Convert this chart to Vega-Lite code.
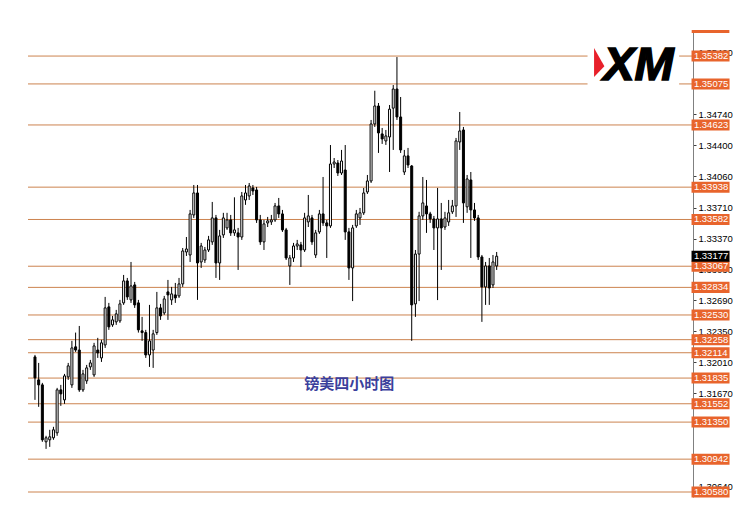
{
  "$schema": "https://vega.github.io/schema/vega-lite/v6.json",
  "width": 665,
  "height": 467,
  "autosize": {"type": "none"},
  "padding": {"left": 28, "top": 30, "right": 60, "bottom": 18},
  "background": "white",
  "config": {
    "view": {"stroke": null},
    "axisX": {"disable": true},
    "axisY": {
      "title": null,
      "format": ".5f",
      "grid": false,
      "domainColor": "#808080",
      "domainWidth": 1,
      "tickColor": "#404040",
      "tickSize": 3,
      "labelPadding": 2,
      "labelFont": "Liberation Sans",
      "labelFontSize": 9.5,
      "labelColor": "#000000",
      "labelBound": false,
      "labelOverlap": false,
      "labelFlush": false
    }
  },
  "datasets": {
    "candles": [
      {"i":0,"o":1.32068,"h":1.3209,"l":1.31595,"c":1.31837},
      {"i":1,"o":1.31815,"h":1.32002,"l":1.31518,"c":1.3176},
      {"i":2,"o":1.3176,"h":1.31782,"l":1.31133,"c":1.31155},
      {"i":3,"o":1.31133,"h":1.31199,"l":1.31055,"c":1.31177},
      {"i":4,"o":1.31155,"h":1.31265,"l":1.31077,"c":1.31188},
      {"i":5,"o":1.31177,"h":1.31298,"l":1.31155,"c":1.31265},
      {"i":6,"o":1.31232,"h":1.31727,"l":1.31199,"c":1.31705},
      {"i":7,"o":1.31705,"h":1.3176,"l":1.31529,"c":1.31661},
      {"i":8,"o":1.31595,"h":1.31881,"l":1.31551,"c":1.31859},
      {"i":9,"o":1.31848,"h":1.32002,"l":1.31815,"c":1.31969},
      {"i":10,"o":1.3176,"h":1.32245,"l":1.31727,"c":1.32167},
      {"i":11,"o":1.32179,"h":1.32336,"l":1.32123,"c":1.32144},
      {"i":12,"o":1.32144,"h":1.32409,"l":1.31683,"c":1.31705},
      {"i":13,"o":1.31705,"h":1.31925,"l":1.31683,"c":1.31881},
      {"i":14,"o":1.31804,"h":1.3198,"l":1.31771,"c":1.31947},
      {"i":15,"o":1.31958,"h":1.32035,"l":1.31925,"c":1.32002},
      {"i":16,"o":1.3187,"h":1.32223,"l":1.31848,"c":1.32189},
      {"i":17,"o":1.32144,"h":1.32278,"l":1.32057,"c":1.32112},
      {"i":18,"o":1.32057,"h":1.32256,"l":1.32013,"c":1.32223},
      {"i":19,"o":1.322,"h":1.32729,"l":1.32167,"c":1.32608},
      {"i":20,"o":1.32619,"h":1.32663,"l":1.32366,"c":1.32399},
      {"i":21,"o":1.32421,"h":1.3252,"l":1.32399,"c":1.32476},
      {"i":22,"o":1.32454,"h":1.32586,"l":1.32421,"c":1.32542},
      {"i":23,"o":1.32465,"h":1.32696,"l":1.32443,"c":1.32652},
      {"i":24,"o":1.32663,"h":1.32971,"l":1.32641,"c":1.32905},
      {"i":25,"o":1.32905,"h":1.32938,"l":1.32696,"c":1.32729},
      {"i":26,"o":1.32696,"h":1.33114,"l":1.32663,"c":1.3285},
      {"i":27,"o":1.32861,"h":1.32894,"l":1.32608,"c":1.32641},
      {"i":28,"o":1.32663,"h":1.32696,"l":1.32336,"c":1.32366},
      {"i":29,"o":1.32355,"h":1.32509,"l":1.32245,"c":1.32336},
      {"i":30,"o":1.32336,"h":1.32366,"l":1.32057,"c":1.3209},
      {"i":31,"o":1.3209,"h":1.32641,"l":1.31958,"c":1.32245},
      {"i":32,"o":1.32144,"h":1.32366,"l":1.31947,"c":1.32322},
      {"i":33,"o":1.32336,"h":1.32784,"l":1.32311,"c":1.32608},
      {"i":34,"o":1.32608,"h":1.32652,"l":1.32476,"c":1.3252},
      {"i":35,"o":1.32553,"h":1.3274,"l":1.32531,"c":1.32707},
      {"i":36,"o":1.32784,"h":1.32916,"l":1.32476,"c":1.32751},
      {"i":37,"o":1.32696,"h":1.32839,"l":1.32641,"c":1.32762},
      {"i":38,"o":1.32751,"h":1.32883,"l":1.32663,"c":1.32718},
      {"i":39,"o":1.3274,"h":1.32938,"l":1.32718,"c":1.32872},
      {"i":40,"o":1.32872,"h":1.33268,"l":1.32839,"c":1.33235},
      {"i":41,"o":1.33224,"h":1.33389,"l":1.3318,"c":1.33257},
      {"i":42,"o":1.33191,"h":1.33687,"l":1.33114,"c":1.33643},
      {"i":43,"o":1.33632,"h":1.33962,"l":1.33599,"c":1.33874},
      {"i":44,"o":1.33874,"h":1.33962,"l":1.32696,"c":1.33103},
      {"i":45,"o":1.33114,"h":1.33324,"l":1.33048,"c":1.3329},
      {"i":46,"o":1.33136,"h":1.33279,"l":1.33103,"c":1.33246},
      {"i":47,"o":1.33246,"h":1.33401,"l":1.33224,"c":1.33357},
      {"i":48,"o":1.33335,"h":1.33775,"l":1.33302,"c":1.33599},
      {"i":49,"o":1.33599,"h":1.33632,"l":1.32938,"c":1.33103},
      {"i":50,"o":1.33103,"h":1.33467,"l":1.32916,"c":1.33401},
      {"i":51,"o":1.33412,"h":1.33655,"l":1.33379,"c":1.33599},
      {"i":52,"o":1.33489,"h":1.33655,"l":1.33467,"c":1.33577},
      {"i":53,"o":1.33577,"h":1.33632,"l":1.33401,"c":1.33434},
      {"i":54,"o":1.33434,"h":1.33826,"l":1.33401,"c":1.33467},
      {"i":55,"o":1.33434,"h":1.33489,"l":1.33026,"c":1.33389},
      {"i":56,"o":1.33389,"h":1.33885,"l":1.33357,"c":1.33841},
      {"i":57,"o":1.33797,"h":1.33962,"l":1.33743,"c":1.33874},
      {"i":58,"o":1.33841,"h":1.33984,"l":1.33797,"c":1.33951},
      {"i":59,"o":1.33929,"h":1.33962,"l":1.33852,"c":1.33896},
      {"i":60,"o":1.33907,"h":1.3394,"l":1.33544,"c":1.33577},
      {"i":61,"o":1.33577,"h":1.33632,"l":1.33302,"c":1.33335},
      {"i":62,"o":1.33335,"h":1.33577,"l":1.33246,"c":1.33533},
      {"i":63,"o":1.33544,"h":1.3361,"l":1.33499,"c":1.33566},
      {"i":64,"o":1.33555,"h":1.33632,"l":1.33522,"c":1.33577},
      {"i":65,"o":1.33577,"h":1.33764,"l":1.33555,"c":1.33731},
      {"i":66,"o":1.33731,"h":1.33819,"l":1.33599,"c":1.33643},
      {"i":67,"o":1.33643,"h":1.33687,"l":1.33445,"c":1.33467},
      {"i":68,"o":1.33467,"h":1.33489,"l":1.33136,"c":1.33158},
      {"i":69,"o":1.3307,"h":1.33191,"l":1.32861,"c":1.33158},
      {"i":70,"o":1.33158,"h":1.33324,"l":1.33114,"c":1.3329},
      {"i":71,"o":1.3329,"h":1.33357,"l":1.33246,"c":1.33312},
      {"i":72,"o":1.33302,"h":1.33335,"l":1.33059,"c":1.33246},
      {"i":73,"o":1.33246,"h":1.33655,"l":1.33224,"c":1.33599},
      {"i":74,"o":1.33555,"h":1.33852,"l":1.33499,"c":1.33621},
      {"i":75,"o":1.33599,"h":1.33632,"l":1.33302,"c":1.33335},
      {"i":76,"o":1.33191,"h":1.33467,"l":1.33158,"c":1.33434},
      {"i":77,"o":1.33445,"h":1.33687,"l":1.33423,"c":1.33643},
      {"i":78,"o":1.33643,"h":1.3405,"l":1.33511,"c":1.33544},
      {"i":79,"o":1.33544,"h":1.33577,"l":1.33158,"c":1.33511},
      {"i":80,"o":1.33511,"h":1.34402,"l":1.33489,"c":1.34193},
      {"i":81,"o":1.34193,"h":1.34259,"l":1.34149,"c":1.34215},
      {"i":82,"o":1.34204,"h":1.34237,"l":1.34061,"c":1.34094},
      {"i":83,"o":1.34094,"h":1.34348,"l":1.34072,"c":1.34226},
      {"i":84,"o":1.34127,"h":1.34402,"l":1.33357,"c":1.33445},
      {"i":85,"o":1.33445,"h":1.33489,"l":1.32916,"c":1.33048},
      {"i":86,"o":1.33048,"h":1.33522,"l":1.32683,"c":1.33489},
      {"i":87,"o":1.33511,"h":1.33687,"l":1.33489,"c":1.33643},
      {"i":88,"o":1.33599,"h":1.33709,"l":1.33522,"c":1.33655},
      {"i":89,"o":1.33655,"h":1.33929,"l":1.33632,"c":1.33874},
      {"i":90,"o":1.33885,"h":1.34072,"l":1.33863,"c":1.34006},
      {"i":91,"o":1.34006,"h":1.34678,"l":1.33984,"c":1.34634},
      {"i":92,"o":1.34634,"h":1.35,"l":1.34601,"c":1.34832},
      {"i":93,"o":1.34832,"h":1.34865,"l":1.34315,"c":1.34535},
      {"i":94,"o":1.34524,"h":1.3459,"l":1.34414,"c":1.34469},
      {"i":95,"o":1.34447,"h":1.34568,"l":1.34403,"c":1.34502},
      {"i":96,"o":1.34491,"h":1.34843,"l":1.34105,"c":1.34797},
      {"i":97,"o":1.34808,"h":1.35063,"l":1.34348,"c":1.35019},
      {"i":98,"o":1.35019,"h":1.35371,"l":1.34678,"c":1.34711},
      {"i":99,"o":1.34711,"h":1.34931,"l":1.34315,"c":1.34348},
      {"i":100,"o":1.34105,"h":1.34348,"l":1.34072,"c":1.34282},
      {"i":101,"o":1.34282,"h":1.3437,"l":1.34149,"c":1.34182},
      {"i":102,"o":1.34171,"h":1.34182,"l":1.32245,"c":1.32641},
      {"i":103,"o":1.32652,"h":1.33246,"l":1.32509,"c":1.33201},
      {"i":104,"o":1.33201,"h":1.33666,"l":1.32683,"c":1.33621},
      {"i":105,"o":1.33621,"h":1.3405,"l":1.33577,"c":1.33764},
      {"i":106,"o":1.33731,"h":1.34017,"l":1.33434,"c":1.33643},
      {"i":107,"o":1.33643,"h":1.33666,"l":1.33544,"c":1.33588},
      {"i":108,"o":1.33588,"h":1.33621,"l":1.33246,"c":1.33489},
      {"i":109,"o":1.33489,"h":1.33929,"l":1.32694,"c":1.33588},
      {"i":110,"o":1.33588,"h":1.33764,"l":1.33026,"c":1.33489},
      {"i":111,"o":1.33499,"h":1.33666,"l":1.33467,"c":1.33599},
      {"i":112,"o":1.33555,"h":1.33797,"l":1.33511,"c":1.33655},
      {"i":113,"o":1.33666,"h":1.33797,"l":1.33643,"c":1.33731},
      {"i":114,"o":1.33731,"h":1.3448,"l":1.3361,"c":1.34447},
      {"i":115,"o":1.34436,"h":1.34766,"l":1.34348,"c":1.34557},
      {"i":116,"o":1.34568,"h":1.34601,"l":1.33544,"c":1.33764},
      {"i":117,"o":1.33721,"h":1.34072,"l":1.33655,"c":1.34028},
      {"i":118,"o":1.34017,"h":1.34105,"l":1.33158,"c":1.33687},
      {"i":119,"o":1.33687,"h":1.33764,"l":1.33566,"c":1.33599},
      {"i":120,"o":1.33599,"h":1.33632,"l":1.33136,"c":1.33169},
      {"i":121,"o":1.33169,"h":1.33191,"l":1.32454,"c":1.32839},
      {"i":122,"o":1.32839,"h":1.33114,"l":1.32641,"c":1.3307},
      {"i":123,"o":1.3307,"h":1.33158,"l":1.32641,"c":1.32828},
      {"i":124,"o":1.32861,"h":1.33191,"l":1.32828,"c":1.33114},
      {"i":125,"o":1.3307,"h":1.33224,"l":1.33026,"c":1.33177}
    ],
    "levels": [
      {"level":1.35382,"kind":"level"},
      {"level":1.35075,"kind":"level"},
      {"level":1.34623,"kind":"level"},
      {"level":1.33938,"kind":"level"},
      {"level":1.33582,"kind":"level"},
      {"level":1.33067,"kind":"level"},
      {"level":1.32834,"kind":"level"},
      {"level":1.3253,"kind":"level"},
      {"level":1.32258,"kind":"level"},
      {"level":1.32114,"kind":"level"},
      {"level":1.31835,"kind":"level"},
      {"level":1.31552,"kind":"level"},
      {"level":1.3135,"kind":"level"},
      {"level":1.30942,"kind":"level"},
      {"level":1.3058,"kind":"level"},
      {"level":1.33177,"kind":"price"}
    ]
  },
  "layer": [
    {
      "data": {"name": "levels"},
      "transform": [{"filter": "datum.kind == 'level'"}],
      "mark": {"type": "rule", "color": "#cc834f", "strokeWidth": 1},
      "encoding": {
        "y": {
          "field": "level",
          "type": "quantitative",
          "scale": {"domain": [1.30525, 1.35669], "nice": false, "zero": false},
          "axis": {
            "orient": "right",
            "values": [1.3064, 1.3167, 1.3201, 1.3235, 1.3269, 1.3303, 1.3337, 1.3371, 1.3406, 1.344, 1.3474, 1.3542],
            "labelOverlap": false
          }
        }
      }
    },
    {
      "data": {"name": "candles"},
      "mark": {"type": "rule", "color": "#000000", "strokeWidth": 1},
      "encoding": {
        "x": {"field": "i", "type": "quantitative", "scale": {"domain": [-0.5333, 176.8], "nice": false, "zero": false}},
        "y": {"field": "l", "type": "quantitative"},
        "y2": {"field": "h"}
      }
    },
    {
      "data": {"name": "candles"},
      "mark": {"type": "bar", "width": 2, "stroke": "#000000", "strokeWidth": 1},
      "encoding": {
        "x": {"field": "i", "type": "quantitative"},
        "y": {"field": "o", "type": "quantitative"},
        "y2": {"field": "c"},
        "fill": {"condition": {"test": "datum.c < datum.o", "value": "#000000"}, "value": "#ffffff"}
      }
    },
    {
      "data": {"values": [{"name": "logo"}]},
      "mark": {"type": "rect", "fill": "#ffffff"},
      "encoding": {
        "x": {"datum": 149.6, "type": "quantitative"},
        "x2": {"datum": 174.4},
        "y": {"datum": 1.35558, "type": "quantitative"},
        "y2": {"datum": 1.34931}
      }
    },
    {
      "data": {"values": [{"name": "logo"}]},
      "mark": {"type": "point", "filled": true, "opacity": 1, "color": "#e8202a", "size": 900, "shape": "M -0.33 -0.97 L 0.36 0.25 L -0.33 0.97 Z"},
      "encoding": {
        "x": {"datum": 152.7, "type": "quantitative"},
        "y": {"datum": 1.35311, "type": "quantitative"}
      }
    },
    {
      "data": {"values": [{"name": "logo"}]},
      "mark": {"type": "text", "text": "XM", "font": "Liberation Sans", "fontSize": 47, "fontWeight": 900, "fontStyle": "italic", "color": "#000000", "align": "center", "baseline": "alphabetic", "stroke": "#000000", "strokeWidth": 1.5},
      "encoding": {
        "x": {"datum": 163.4, "type": "quantitative"},
        "y": {"datum": 1.35118, "type": "quantitative"}
      }
    },
    {
      "data": {"values": [{"name": "title"}]},
      "mark": {"type": "text", "text": "镑美四小时图", "font": "Noto Sans CJK SC", "fontSize": 15, "fontWeight": "bold", "color": "#3b3f9c", "align": "center", "baseline": "middle"},
      "encoding": {
        "x": {"datum": 85.1, "type": "quantitative"},
        "y": {"datum": 1.31771, "type": "quantitative"}
      }
    },
    {
      "data": {"values": [{"name": "topbox"}]},
      "mark": {"type": "rect", "fill": "#e8642c"},
      "encoding": {
        "x": {"datum": 177.8, "type": "quantitative"},
        "x2": {"datum": 188.0},
        "y": {"datum": 1.35669, "type": "quantitative"},
        "y2": {"datum": 1.35636}
      }
    },
    {
      "data": {"name": "levels"},
      "mark": {"type": "point", "filled": true, "opacity": 1, "strokeWidth": 0, "size": 1444, "shape": "M -1 -0.29 L 1 -0.29 L 1 0.29 L -1 0.29 Z"},
      "encoding": {
        "x": {"datum": 182.9, "type": "quantitative"},
        "y": {"field": "level", "type": "quantitative"},
        "color": {"condition": {"test": "datum.kind == 'price'", "value": "#000000"}, "value": "#e8642c"}
      }
    },
    {
      "data": {"name": "levels"},
      "mark": {"type": "text", "font": "Liberation Sans", "fontSize": 9.5, "color": "#ffffff", "align": "left", "baseline": "middle"},
      "encoding": {
        "x": {"datum": 178.4, "type": "quantitative"},
        "y": {"field": "level", "type": "quantitative"},
        "text": {"field": "level", "type": "quantitative", "format": ".5f"}
      }
    }
  ]
}
